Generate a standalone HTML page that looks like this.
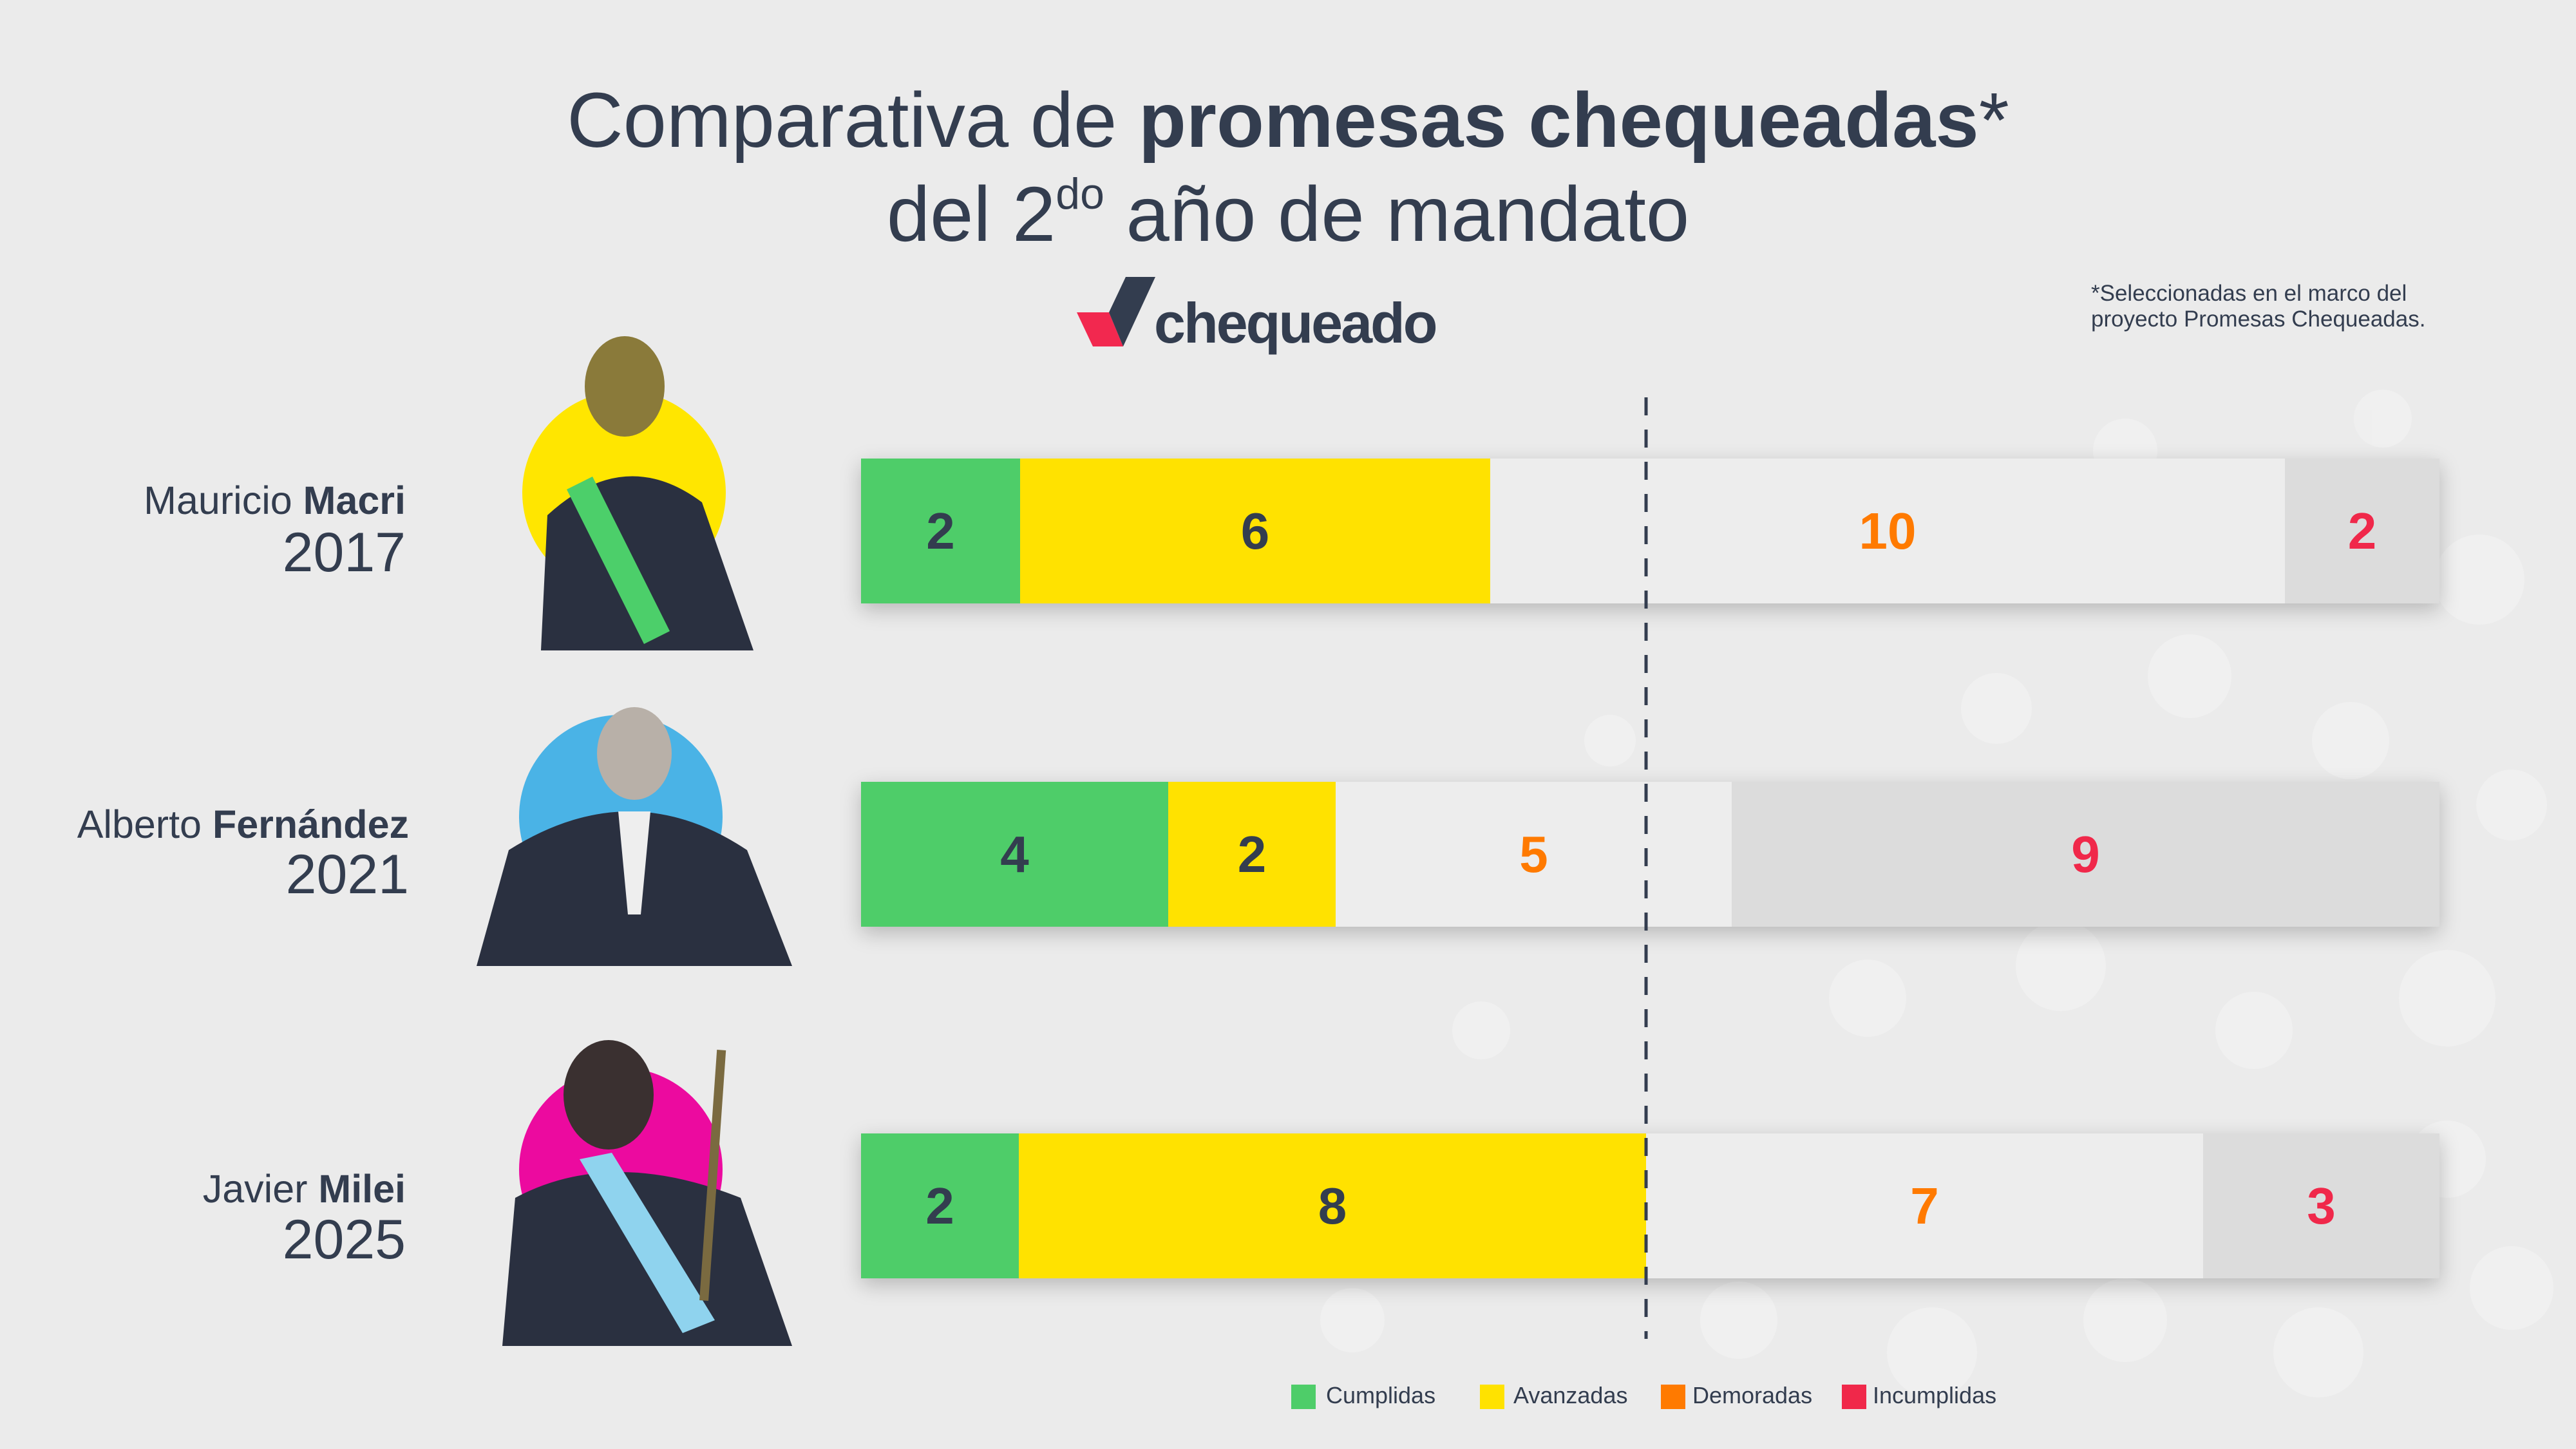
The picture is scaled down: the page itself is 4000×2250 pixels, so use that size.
<!DOCTYPE html>
<html><head><meta charset="utf-8">
<style>
html,body{margin:0;padding:0}
body{width:4000px;height:2250px;background:#ebebeb;position:relative;overflow:hidden;font-family:"Liberation Sans",sans-serif;color:#333d4f}
.abs{position:absolute}
.t{position:absolute;white-space:nowrap}
.bar{position:absolute;left:1337px;width:2451px;height:225px;display:flex;box-shadow:0 10px 30px rgba(0,0,0,0.22)}
.bar div{height:100%;display:flex;align-items:center;justify-content:center;font-weight:bold;font-size:80px}
.g{background:#4ecd69}.y{background:#ffe200}.l{background:#ededed;color:#ff7a00}.d{background:#dcdcdc;color:#f0284a}
.nm{position:absolute;text-align:right;font-size:61px;line-height:1}
.yr{position:absolute;text-align:right;font-size:86px;line-height:1}
.lg{position:absolute;top:2150px;width:38px;height:38px}
.lt{position:absolute;top:2146px;font-size:36px}
</style></head><body>
<svg class="abs" style="left:0;top:0" width="4000" height="2250">
<g fill="#f4f4f4" opacity="0.55">
<circle cx="3300" cy="700" r="50"/><circle cx="3500" cy="800" r="60"/><circle cx="3700" cy="650" r="45"/><circle cx="3850" cy="900" r="70"/>
<circle cx="3100" cy="1100" r="55"/><circle cx="3400" cy="1050" r="65"/><circle cx="3650" cy="1150" r="60"/><circle cx="3900" cy="1250" r="55"/>
<circle cx="2900" cy="1550" r="60"/><circle cx="3200" cy="1500" r="70"/><circle cx="3500" cy="1600" r="60"/><circle cx="3800" cy="1550" r="75"/>
<circle cx="2700" cy="2050" r="60"/><circle cx="3000" cy="2100" r="70"/><circle cx="3300" cy="2050" r="65"/><circle cx="3600" cy="2100" r="70"/><circle cx="3900" cy="2000" r="65"/>
<circle cx="2300" cy="1600" r="45"/><circle cx="2100" cy="2050" r="50"/><circle cx="2500" cy="1150" r="40"/><circle cx="3800" cy="1800" r="60"/>
</g>
<circle cx="969" cy="765" r="158" fill="#ffe600"/>
<circle cx="964" cy="1268" r="158" fill="#4ab3e6"/>
<circle cx="964" cy="1816" r="158" fill="#ec0a9f"/>
<g fill="#2a3040">
<ellipse cx="970" cy="600" rx="62" ry="78" fill="#8a7a3a"/>
<path d="M840 1010 L850 800 Q970 690 1090 780 L1170 1010 Z"/>
<path d="M880 760 L1000 1000 L1040 980 L920 740Z" fill="#4ccf6a"/>
<ellipse cx="985" cy="1170" rx="58" ry="72" fill="#b8b0a8"/>
<path d="M740 1500 L790 1320 Q980 1200 1160 1320 L1230 1500 Z"/>
<path d="M960 1260 L1010 1260 L995 1420 L975 1420Z" fill="#eee"/>
<ellipse cx="945" cy="1700" rx="70" ry="85" fill="#3a3030"/>
<path d="M780 2090 L800 1860 Q950 1780 1150 1860 L1230 2090 Z"/>
<path d="M900 1800 L1060 2070 L1110 2050 L950 1790Z" fill="#8fd3ee"/>
<rect x="1100" y="1630" width="14" height="390" fill="#7a6a40" transform="rotate(4 1107 1820)"/>
</g>
<polygon points="1672,485 1722,485 1744,538 1697,538" fill="#f2284f"/>
<polygon points="1722,485 1748,430 1794,430 1744,538" fill="#333d4f"/>
</svg>

<div class="t" style="left:0;width:4000px;text-align:center;top:126px;font-size:121px;line-height:1">Comparativa de <b>promesas chequeadas</b>*</div>
<div class="t" style="left:0;width:4000px;text-align:center;top:272px;font-size:121px;line-height:1">del 2<sup style="font-size:68px;vertical-align:0;position:relative;top:-50px">do</sup> año de mandato</div>
<div class="t" style="left:1792px;top:458px;font-size:88px;font-weight:bold;letter-spacing:-3px;line-height:1">chequeado</div>
<div class="t" style="left:3247px;top:436px;font-size:35px;line-height:40px">*Seleccionadas en el marco del<br>proyecto Promesas Chequeadas.</div>

<div class="nm" style="right:3370px;top:747px">Mauricio <b>Macri</b></div>
<div class="yr" style="right:3370px;top:815px">2017</div>
<div class="nm" style="right:3365px;top:1250px">Alberto <b>Fernández</b></div>
<div class="yr" style="right:3365px;top:1315px">2021</div>
<div class="nm" style="right:3370px;top:1816px">Javier <b>Milei</b></div>
<div class="yr" style="right:3370px;top:1882px">2025</div>

<div class="bar" style="top:712px">
<div class="g" style="width:247px">2</div><div class="y" style="width:730px">6</div><div class="l" style="width:1234px">10</div><div class="d" style="width:240px">2</div>
</div>
<div class="bar" style="top:1214px">
<div class="g" style="width:477px">4</div><div class="y" style="width:260px">2</div><div class="l" style="width:615px">5</div><div class="d" style="width:1099px">9</div>
</div>
<div class="bar" style="top:1760px">
<div class="g" style="width:245px">2</div><div class="y" style="width:974px">8</div><div class="l" style="width:865px">7</div><div class="d" style="width:367px">3</div>
</div>

<svg class="abs" style="left:0;top:0" width="4000" height="2250">
<line x1="2556" y1="617" x2="2556" y2="2079" stroke="#333d4f" stroke-width="5" stroke-dasharray="28 22"/>
</svg>

<div class="lg" style="left:2005px;background:#4ecd69"></div><div class="lt" style="left:2059px">Cumplidas</div>
<div class="lg" style="left:2298px;background:#ffe200"></div><div class="lt" style="left:2350px">Avanzadas</div>
<div class="lg" style="left:2579px;background:#ff7a00"></div><div class="lt" style="left:2628px">Demoradas</div>
<div class="lg" style="left:2860px;background:#f0284a"></div><div class="lt" style="left:2908px">Incumplidas</div>
</body></html>
